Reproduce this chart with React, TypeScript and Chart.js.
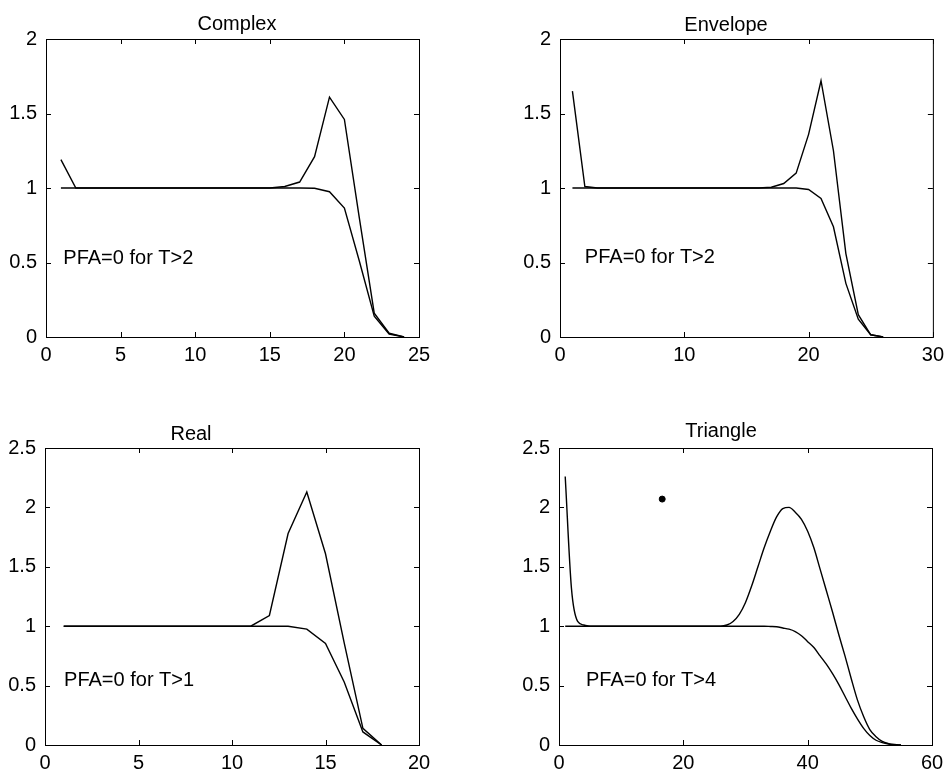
import React, { useEffect, useRef } from "react";
import { Chart, registerables } from "chart.js";
Chart.register(...registerables);

// ---------- data ----------
const complexT = [1,2,3,4,5,6,7,8,9,10,11,12,13,14,15,16,17,18,19,20,21,22,23,24];
const complexUpper = [1.19,1.0,1.0,1.0,1.0,1.0,1.0,1.0,1.0,1.0,1.0,1.0,1.0,1.0,1.0,1.01,1.04,1.21,1.61,1.46,0.8,0.16,0.025,0.0];
const complexLower = [1.0,1.0,1.0,1.0,1.0,1.0,1.0,1.0,1.0,1.0,1.0,1.0,1.0,1.0,1.0,1.0,1.0,0.998,0.975,0.865,0.51,0.14,0.02,0.0];

const envelopeT = [1,2,3,4,5,6,7,8,9,10,11,12,13,14,15,16,17,18,19,20,21,22,23,24,25,26];
const envelopeUpper = [1.65,1.01,1.0,1.0,1.0,1.0,1.0,1.0,1.0,1.0,1.0,1.0,1.0,1.0,1.0,1.0,1.005,1.03,1.1,1.36,1.72,1.25,0.56,0.15,0.015,0.0];
const envelopeLower = [1.0,1.0,1.0,1.0,1.0,1.0,1.0,1.0,1.0,1.0,1.0,1.0,1.0,1.0,1.0,1.0,1.0,1.0,1.0,0.99,0.93,0.74,0.36,0.12,0.015,0.0];

const realT = [1,2,3,4,5,6,7,8,9,10,11,12,13,14,15,16,17,18];
const realUpper = [1.0,1.0,1.0,1.0,1.0,1.0,1.0,1.0,1.0,1.0,1.0,1.09,1.78,2.13,1.61,0.86,0.14,0.0];
const realLower = [1.0,1.0,1.0,1.0,1.0,1.0,1.0,1.0,1.0,1.0,1.0,1.0,1.0,0.975,0.855,0.53,0.11,0.0];

const triangleT = [1,2,3,4,5,6,7,8,9,10,11,12,13,14,15,16,17,18,19,20,21,22,23,24,25,26,27,28,29,30,31,32,33,34,35,36,37,38,39,40,41,42,43,44,45,46,47,48,49,50,51,52,53,54,55];
const triangleUpper = [2.26,1.32,1.04,1.01,1.0,1.0,1.0,1.0,1.0,1.0,1.0,1.0,1.0,1.0,1.0,1.0,1.0,1.0,1.0,1.0,1.0,1.0,1.0,1.0,1.0,1.0,1.01,1.04,1.1,1.2,1.34,1.5,1.66,1.8,1.92,1.99,2.0,1.96,1.9,1.8,1.66,1.48,1.3,1.12,0.93,0.75,0.56,0.38,0.24,0.13,0.07,0.03,0.012,0.004,0.0];
const triangleLower = [1.0,1.0,1.0,1.0,1.0,1.0,1.0,1.0,1.0,1.0,1.0,1.0,1.0,1.0,1.0,1.0,1.0,1.0,1.0,1.0,1.0,1.0,1.0,1.0,1.0,1.0,1.0,1.0,1.0,1.0,1.0,1.0,1.0,0.998,0.995,0.985,0.975,0.955,0.92,0.87,0.82,0.75,0.68,0.6,0.51,0.41,0.31,0.22,0.14,0.08,0.04,0.02,0.008,0.002,0.0];
const triangleDot = [{ x: 16.6, y: 2.07 }];

const titles = ["Complex", "Envelope", "Real", "Triangle"];
const notes = ["PFA=0 for T>2", "PFA=0 for T>2", "PFA=0 for T>1", "PFA=0 for T>4"];
const xMaxes = [25, 30, 20, 60];
const xSteps = [5, 10, 5, 20];
const yMaxes = [2, 2, 2.5, 2.5];
const noteX = [1.16, 2.0, 1.02, 4.34];
const noteY = [0.49, 0.495, 0.5, 0.5];

// ---------- layout ----------
const W = 950;
const H = 774;
const YW = 40;
const XH = 30;
const FONT_FAMILY = "'Liberation Sans', Arial, Helvetica, sans-serif";
const areas = [
  { l: 46, t: 39, r: 419, b: 337, tx: 237, ty: 30 },
  { l: 560, t: 39, r: 934, b: 337, tx: 726, ty: 31 },
  { l: 45, t: 448, r: 419, b: 745, tx: 191, ty: 440 },
  { l: 559, t: 448, r: 932, b: 745, tx: 721, ty: 437 },
];

const framePlugin = {
  id: "matFrame",
  afterDatasetsDraw(chart: any, _args: any, opts: any) {
    const { ctx, chartArea: a, scales } = chart;
    const xs = scales.x;
    const ys = scales.y;
    ctx.save();
    ctx.strokeStyle = "#000";
    ctx.lineWidth = 1;
    ctx.strokeRect(a.left + 0.5, a.top + 0.5, a.right - a.left, a.bottom - a.top);
    const TL = 5;
    ctx.beginPath();
    xs.ticks.forEach((t: any) => {
      const px = Math.round(xs.getPixelForValue(t.value)) + 0.5;
      ctx.moveTo(px, a.bottom);
      ctx.lineTo(px, a.bottom - TL);
      ctx.moveTo(px, a.top);
      ctx.lineTo(px, a.top + TL);
    });
    ys.ticks.forEach((t: any) => {
      const py = Math.round(ys.getPixelForValue(t.value)) + 0.5;
      ctx.moveTo(a.left, py);
      ctx.lineTo(a.left + TL, py);
      ctx.moveTo(a.right, py);
      ctx.lineTo(a.right - TL, py);
    });
    ctx.stroke();
    ctx.fillStyle = "#000";
    ctx.font = `20px ${FONT_FAMILY}`;
    ctx.textBaseline = "alphabetic";
    ctx.textAlign = "center";
    ctx.fillText(opts.title, opts.tx, opts.ty);
    ctx.textAlign = "left";
    ctx.fillText(opts.note, xs.getPixelForValue(opts.nx), ys.getPixelForValue(opts.ny));
    ctx.restore();
  },
};

function makeSeries(t: number[], v: number[]) {
  return t.map((x, i) => ({ x, y: v[i] }));
}

const series = [
  [complexT, complexUpper, complexLower],
  [envelopeT, envelopeUpper, envelopeLower],
  [realT, realUpper, realLower],
  [triangleT, triangleUpper, triangleLower],
];

const fmt = (v: any) => String(Math.round(Number(v) * 100) / 100);

function Panel({ idx }: { idx: number }) {
  const ref = useRef<HTMLCanvasElement>(null);
  useEffect(() => {
    if (!ref.current) return;
    const a = areas[idx];
    const [t, up, lo] = series[idx] as any;
    const smooth = idx === 3;
    const lineStyle: any = {
      type: "line",
      borderColor: "#000",
      borderWidth: 1.4,
      pointRadius: 0,
      fill: false,
      tension: smooth ? 0.4 : 0,
      cubicInterpolationMode: smooth ? "monotone" : "default",
    };
    const datasets: any[] = [
      { ...lineStyle, data: makeSeries(t, lo) },
      { ...lineStyle, data: makeSeries(t, up) },
    ];
    if (idx === 3) {
      datasets.push({ type: "scatter", data: triangleDot, backgroundColor: "#000", borderColor: "#000", pointRadius: 3, showLine: false });
    }
    const chart = new Chart(ref.current, {
      type: "line",
      data: { datasets },
      plugins: [framePlugin as any],
      options: {
        responsive: false,
        animation: false,
        devicePixelRatio: 1,
        layout: {
          autoPadding: false,
          padding: { left: a.l - YW, top: a.t, right: W - a.r, bottom: H - a.b - XH },
        } as any,
        plugins: {
          legend: { display: false },
          tooltip: { enabled: false },
          title: { display: false },
          matFrame: { title: titles[idx], note: notes[idx], tx: a.tx, ty: a.ty, nx: noteX[idx], ny: noteY[idx] },
        } as any,
        scales: {
          x: {
            type: "linear",
            min: 0,
            max: xMaxes[idx],
            grid: { display: false, drawTicks: false },
            border: { display: false },
            ticks: { stepSize: xSteps[idx], color: "#000", padding: 6, maxRotation: 0, autoSkip: false, callback: fmt, font: { family: FONT_FAMILY, size: 20 } },
            afterFit: (s: any) => { s.height = XH; },
          },
          y: {
            type: "linear",
            min: 0,
            max: yMaxes[idx],
            grid: { display: false, drawTicks: false },
            border: { display: false },
            ticks: { stepSize: 0.5, color: "#000", padding: 9, autoSkip: false, callback: fmt, font: { family: FONT_FAMILY, size: 20 } },
            afterFit: (s: any) => { s.width = YW; },
          },
        },
      },
    });
    return () => chart.destroy();
  }, [idx]);
  return (
    <canvas
      ref={ref}
      width={W}
      height={H}
      style={{ position: "absolute", left: 0, top: 0, width: W, height: H }}
    />
  );
}

export default function App() {
  return (
    <div style={{ position: "absolute", left: 0, top: 0, width: W, height: H, background: "#fff" }}>
      {[0, 1, 2, 3].map((i) => (
        <Panel key={i} idx={i} />
      ))}
    </div>
  );
}
